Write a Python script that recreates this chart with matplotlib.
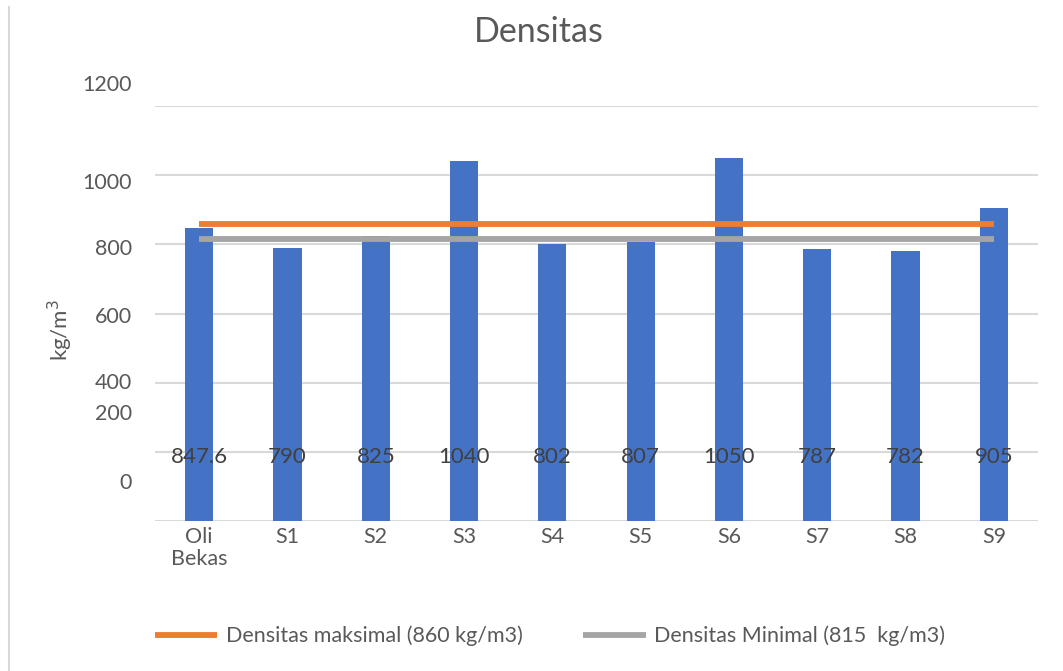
import matplotlib.pyplot as plt
from matplotlib.lines import Line2D
from matplotlib.transforms import blended_transform_factory

# data
categories = ['Oli\nBekas', 'S1', 'S2', 'S3', 'S4', 'S5', 'S6', 'S7', 'S8', 'S9']
densitas = [847.6, 790, 825, 1040, 802, 807, 1050, 787, 782, 905]
batas_maks = [860] * len(categories)
batas_min = [815] * len(categories)
label_maks = 'Densitas maksimal (860 kg/m3)'
label_min = 'Densitas Minimal (815  kg/m3)'

# y tick labels, placed where they stand in the original (not on the grid)
ytick_text = ['1200', '1000', '800', '600', '400', '200', '0']
ytick_pos = [1261, 977, 786, 590, 399, 309, 110]

plt.rcParams['font.family'] = ['Lato', 'DejaVu Sans']
fs = 15.5

fig = plt.figure(figsize=(10.63, 6.71), dpi=100)
ax = fig.add_axes([155 / 1063, 1 - 521 / 671, (1038 - 155) / 1063, (521 - 106) / 671])

x = list(range(len(categories)))
ax.bar(x, densitas, width=0.32, color='#4472C4', zorder=2)
ax.plot(x, batas_maks, color='#ED7D31', lw=4.2, solid_capstyle='butt', zorder=3)
ax.plot(x, batas_min, color='#A5A5A5', lw=4.2, solid_capstyle='butt', zorder=3)

ax.set_xlim(-0.5, len(categories) - 0.5)
ax.set_ylim(0, 1200)
for g in range(0, 1201, 200):
    ax.axhline(g, color='#D9D9D9', lw=1.5, zorder=1)

for s in ax.spines.values():
    s.set_visible(False)
ax.set_yticks([])
ax.set_xticks(x, categories)
ax.tick_params(axis='x', length=0, pad=4, labelsize=fs, labelcolor='#595959')
for t in ax.get_xticklabels():
    t.set_linespacing(1.15)

# y labels as text
tr = blended_transform_factory(ax.transAxes, ax.transData)
for t, p in zip(ytick_text, ytick_pos):
    ax.text(-0.026, p, t, transform=tr, ha='right', va='center',
            fontsize=fs, color='#595959', clip_on=False)

# data labels (all at the same height as in the original)
for xi, v in zip(x, densitas):
    ax.text(xi, 185, f'{v:g}', ha='center', va='center', fontsize=fs + 0.5,
            color='#404040', zorder=4)

fig.text(60 / 1063, 1 - 330 / 671, 'kg/m$^{3}$', rotation=90, ha='center',
         va='center', fontsize=16, color='#595959')
fig.text(539 / 1063, 1 - 32 / 671, 'Densitas', ha='center', va='center',
         fontsize=24.5, color='#595959')

handles = [Line2D([], [], color='#ED7D31', lw=4.2, solid_capstyle='butt'),
           Line2D([], [], color='#A5A5A5', lw=4.2, solid_capstyle='butt')]
leg = fig.legend(handles, [label_maks, label_min], loc='center',
                 bbox_to_anchor=(550 / 1063, 1 - 636 / 671), ncol=2,
                 frameon=False, fontsize=15.5, handlelength=2.9,
                 handletextpad=0.4, columnspacing=2.8)
for t in leg.get_texts():
    t.set_color('#595959')

# chart frame (only the left edge is visible in the original)
fig.add_artist(Line2D([9 / 1063, 9 / 1063], [0, 1 - 7 / 671],
                      transform=fig.transFigure, color='#D9D9D9', lw=1.5))

plt.savefig('out.png', dpi=100)
